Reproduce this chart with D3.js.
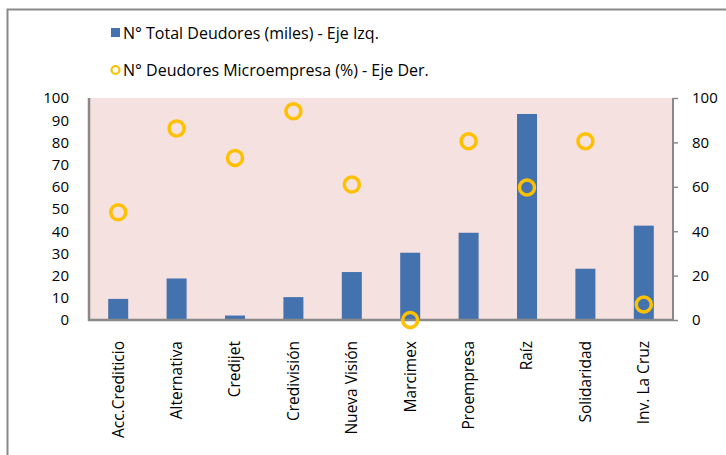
<!DOCTYPE html>
<html>
<head>
<meta charset="utf-8">
<script src="https://cdn.jsdelivr.net/npm/d3@7"></script>
<style>
  body { margin: 0; background: #fff; }
  text { font-family: "Open Sans", "Liberation Sans", sans-serif; fill: #000; }
</style>
</head>
<body>
<div id="svg-area"></div>
<script>
var svgWidth = 726;
var svgHeight = 455;

// data
var categories = ["Acc.Crediticio", "Alternativa", "Credijet", "Credivisión", "Nueva Visión",
  "Marcimex", "Proempresa", "Raíz", "Solidaridad", "Inv. La Cruz"];
var totalDeudores = [9.5, 18.7, 2, 10.3, 21.6, 30.3, 39.3, 92.8, 23.1, 42.5];
var microPct = [48.5, 86.3, 73, 94, 61, 0, 80.5, 59.7, 80.5, 7];
var leftTicks = [0, 10, 20, 30, 40, 50, 60, 70, 80, 90, 100];
var rightTicks = [0, 20, 40, 60, 80, 100];
var legendLabels = ["N° Total Deudores (miles) - Eje Izq.", "N° Deudores Microempresa (%) - Eje Der."];

var margin = { top: 98, right: 53, bottom: 135, left: 89 };
var chartwidth = svgWidth - margin.left - margin.right;
var chartheight = svgHeight - margin.top - margin.bottom;

var barColor = "#4472AE";
var dotColor = "#FFC000";
var axisColor = "#898989";

var svg = d3.select("#svg-area")
  .append("svg")
  .attr("width", svgWidth)
  .attr("height", svgHeight);

// outer chart border
svg.append("rect")
  .attr("x", 7.5).attr("y", 9.5)
  .attr("width", 740).attr("height", 460)
  .attr("fill", "none")
  .attr("stroke", axisColor)
  .attr("stroke-width", 2);

var chartGroup = svg.append("g")
  .attr("transform", `translate(${margin.left}, ${margin.top})`);

var xScale = d3.scaleBand()
  .domain(categories)
  .range([0, chartwidth]);

var yLeft = d3.scaleLinear().domain([0, 100]).range([chartheight, 0]);
var yRight = d3.scaleLinear().domain([0, 100]).range([chartheight, 0]);

// plot background
chartGroup.append("rect")
  .attr("width", chartwidth)
  .attr("height", chartheight)
  .attr("fill", "#F5E1E0");

// bars
chartGroup.selectAll(".bar")
  .data(totalDeudores)
  .enter()
  .append("rect")
  .attr("class", "bar")
  .attr("x", (d, i) => xScale(categories[i]) + xScale.bandwidth() / 2 - 10)
  .attr("width", 20)
  .attr("y", d => yLeft(d))
  .attr("height", d => chartheight - yLeft(d))
  .attr("fill", barColor);

// left axis
var leftAxis = d3.axisLeft(yLeft).tickValues(leftTicks).tickSize(0).tickPadding(20);
var gl = chartGroup.append("g").call(leftAxis);
gl.select(".domain").remove();
gl.selectAll("text").style("font-size", "15px").style("font-family", "Open Sans, sans-serif");

// right axis
var rightAxis = d3.axisRight(yRight).tickValues(rightTicks).tickSize(5).tickPadding(14);
var gr = chartGroup.append("g")
  .attr("transform", `translate(${chartwidth}, 0)`)
  .call(rightAxis);
gr.select(".domain").attr("stroke", axisColor).attr("stroke-width", 2).attr("d", `M0,0V${chartheight}`);
gr.selectAll("line").attr("stroke", axisColor).attr("stroke-width", 1.5);
gr.selectAll("text").style("font-size", "15px").style("font-family", "Open Sans, sans-serif");

// left axis line and bottom line
chartGroup.append("line")
  .attr("x1", 0).attr("x2", 0).attr("y1", 0).attr("y2", chartheight + 1)
  .attr("stroke", axisColor).attr("stroke-width", 2.5);
chartGroup.append("line")
  .attr("x1", -1).attr("x2", chartwidth).attr("y1", chartheight).attr("y2", chartheight)
  .attr("stroke", axisColor).attr("stroke-width", 2.5);

// category labels
var bottomAxis = d3.axisBottom(xScale).tickSize(0);
var gb = chartGroup.append("g")
  .attr("transform", `translate(0, ${chartheight})`)
  .call(bottomAxis);
gb.select(".domain").remove();
gb.selectAll("text")
  .attr("transform", "rotate(-90)")
  .attr("x", -21)
  .attr("y", 0)
  .attr("dy", "0.35em")
  .style("text-anchor", "end")
  .style("font-size", "15.5px")
  .style("font-family", "Open Sans, sans-serif");

// circles
chartGroup.selectAll(".dot")
  .data(microPct)
  .enter()
  .append("circle")
  .attr("class", "dot")
  .attr("cx", (d, i) => xScale(categories[i]) + xScale.bandwidth() / 2)
  .attr("cy", d => yRight(d))
  .attr("r", 7.5)
  .attr("fill", "none")
  .attr("stroke", dotColor)
  .attr("stroke-width", 3.5);

// legend
var legend = svg.append("g");
legend.append("rect")
  .attr("x", 111).attr("y", 28).attr("width", 9).attr("height", 9)
  .attr("fill", barColor);
legend.append("circle")
  .attr("cx", 115.5).attr("cy", 70).attr("r", 4)
  .attr("fill", "none").attr("stroke", dotColor).attr("stroke-width", 2.2);
legend.selectAll(".leg")
  .data(legendLabels)
  .enter()
  .append("text")
  .attr("x", 123)
  .attr("y", (d, i) => 33 + i * 37)
  .attr("dy", "0.35em")
  .style("font-size", "16px")
  .style("font-family", "Open Sans, sans-serif")
  .text(d => d);
</script>
</body>
</html>
